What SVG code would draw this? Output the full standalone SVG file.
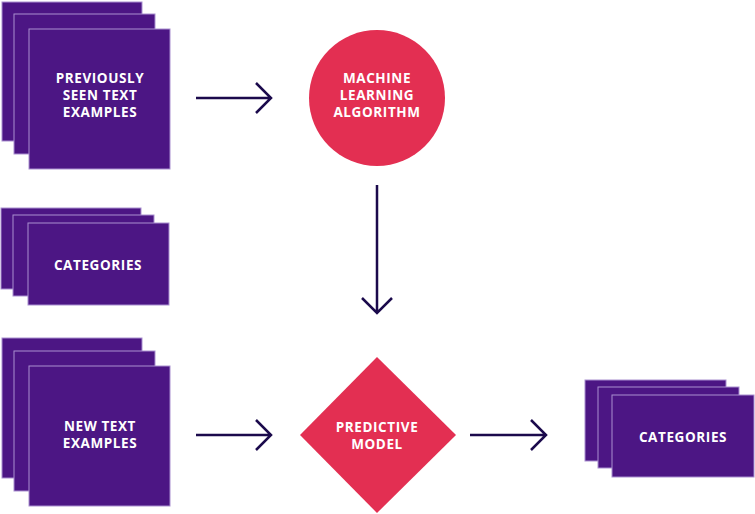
<svg xmlns="http://www.w3.org/2000/svg" width="755" height="514" viewBox="0 0 755 514">
<style>
.card{fill:#4c1684;stroke:#a98fd0;stroke-width:1}
.red{fill:#e32f52}
.t{font-family:"Open Sans",sans-serif;font-weight:bold;font-size:13.5px;letter-spacing:0.6px;fill:#fff;text-anchor:middle}
.c{fill:none;stroke:#1b0a4c;stroke-width:2.5}
</style>
<rect width="755" height="514" fill="#fff"/>
<g id="prev">
<rect class="card" x="2" y="2" width="140" height="139"/>
<rect class="card" x="14" y="14" width="141" height="140"/>
<rect class="card" x="29" y="29" width="141" height="140"/>
<text class="t" x="100" y="83">PREVIOUSLY</text>
<text class="t" x="100" y="100">SEEN TEXT</text>
<text class="t" x="100" y="117">EXAMPLES</text>
</g>
<g id="cats1">
<rect class="card" x="1" y="208" width="140" height="81"/>
<rect class="card" x="13" y="215" width="141" height="81"/>
<rect class="card" x="28" y="223" width="141" height="82"/>
<text class="t" x="98" y="270">CATEGORIES</text>
</g>
<g id="newtext">
<rect class="card" x="2" y="338" width="140" height="140"/>
<rect class="card" x="14" y="351" width="141" height="140"/>
<rect class="card" x="29" y="366" width="141" height="140"/>
<text class="t" x="100" y="431">NEW TEXT</text>
<text class="t" x="100" y="448">EXAMPLES</text>
</g>
<g id="ml">
<circle class="red" cx="377" cy="98" r="68"/>
<text class="t" x="377" y="83">MACHINE</text>
<text class="t" x="377" y="100">LEARNING</text>
<text class="t" x="377" y="117">ALGORITHM</text>
</g>
<g id="model">
<polygon class="red" points="377,357 456,435 377,513 300,435"/>
<text class="t" x="377" y="432">PREDICTIVE</text>
<text class="t" x="377" y="449">MODEL</text>
</g>
<g id="cats2">
<rect class="card" x="585" y="380" width="141" height="81"/>
<rect class="card" x="598" y="387" width="141" height="81"/>
<rect class="card" x="612" y="395" width="142" height="82"/>
<text class="t" x="683" y="442">CATEGORIES</text>
</g>
<g id="connectors">
<path class="c" d="M196 98H271M256 83L271 98L256 113"/>
<path class="c" d="M377 185V313M362 298L377 313L392 298"/>
<path class="c" d="M196 435H271M256 420L271 435L256 450"/>
<path class="c" d="M470 435H546M531 420L546 435L531 450"/>
</g>
</svg>
